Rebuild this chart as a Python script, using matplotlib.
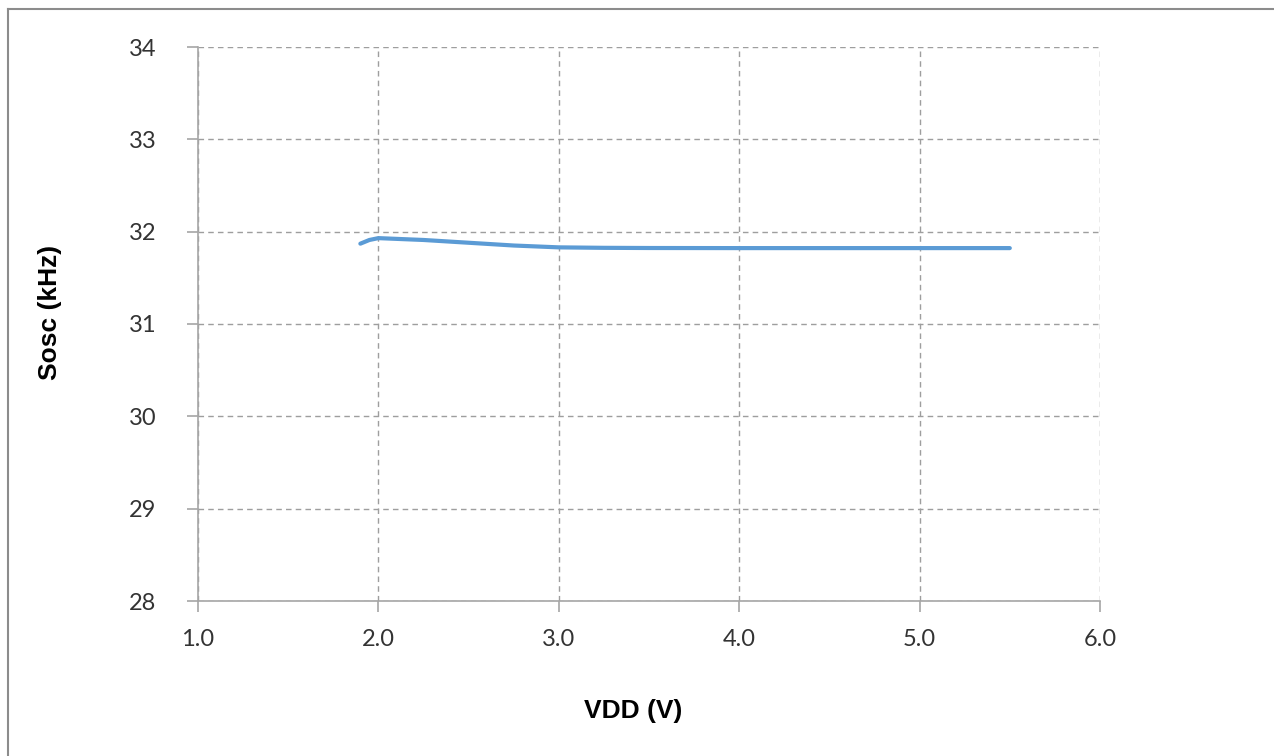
import numpy as np
import matplotlib
matplotlib.use("Agg")
import matplotlib.pyplot as plt
from matplotlib.lines import Line2D

# Sosc frequency vs supply voltage
vdd = [1.9, 1.95, 2.0, 2.25, 2.5, 2.75, 3.0, 3.25, 3.5, 4.0, 4.5, 5.0, 5.5]
sosc = [31.87, 31.91, 31.93, 31.91, 31.88, 31.85, 31.83, 31.825, 31.823, 31.822, 31.822, 31.822, 31.822]

x_ticks = [1.0, 2.0, 3.0, 4.0, 5.0, 6.0]
y_ticks = [28, 29, 30, 31, 32, 33, 34]

fig = plt.figure(figsize=(12.74, 7.56), dpi=100)
ax = fig.add_axes([198 / 1274, 1 - 601 / 756, 902 / 1274, 554 / 756])

ax.plot(vdd, sosc, color="#5B9BD5", linewidth=3, solid_capstyle="round")

ax.set_xlim(1.0, 6.0)
ax.set_ylim(28, 34)
ax.set_xticks(x_ticks)
ax.set_yticks(y_ticks)
ax.set_xticklabels(["{:.1f}".format(v) for v in x_ticks])
ax.set_yticklabels([str(v) for v in y_ticks])

ax.grid(True, color="#9E9E9E", linestyle=(0, (4, 3)), linewidth=1)
for side in ["top", "right"]:
    ax.spines[side].set_visible(False)
for side in ["left", "bottom"]:
    ax.spines[side].set_color("#A6A6A6")
    ax.spines[side].set_linewidth(1.2)

ax.tick_params(axis="both", colors="#A6A6A6", length=8, width=1.2,
               labelcolor="#333333", labelsize=17)
ax.tick_params(axis="y", pad=22)
ax.tick_params(axis="x", pad=12)
for lbl in ax.get_xticklabels() + ax.get_yticklabels():
    lbl.set_fontfamily("Lato")

ax.set_xlabel("VDD (V)", fontsize=19, fontweight="bold", family="Liberation Sans")
ax.set_ylabel("Sosc (kHz)", fontsize=19, fontweight="bold", family="Liberation Sans")
ax.xaxis.set_label_coords(0.483, -0.176)
ax.yaxis.set_label_coords(-0.151, 0.52)

# outer frame of the original picture (top and left edges)
fig.add_artist(Line2D([8 / 1274, 1274 / 1274], [1 - 9 / 756, 1 - 9 / 756],
                      transform=fig.transFigure, color="#8C8C8C", linewidth=1.5))
fig.add_artist(Line2D([8 / 1274, 8 / 1274], [0, 1 - 9 / 756],
                      transform=fig.transFigure, color="#8C8C8C", linewidth=1.5))

fig.savefig("out.png", dpi=100)
